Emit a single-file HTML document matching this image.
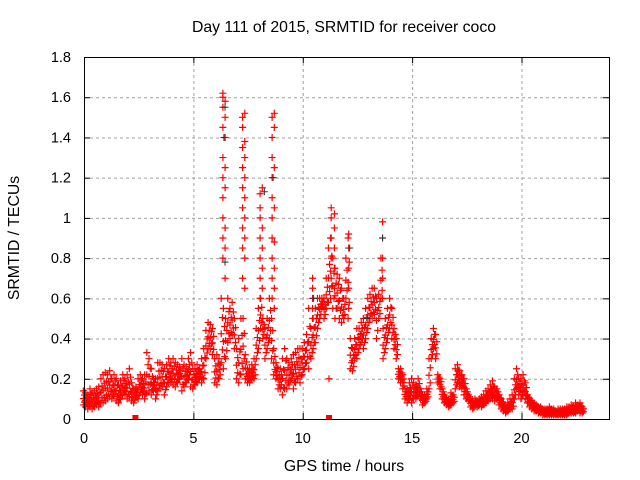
<!DOCTYPE html>
<html><head><meta charset="utf-8"><style>body{margin:0;background:#fff}svg{display:block;font-family:"Liberation Sans",sans-serif}</style></head>
<body>
<svg id="chart" width="640" height="480" viewBox="0 0 640 480"></svg>
<script>
const lowVals=[0.07,0.06,0.05,0.06,0.05,0.06,0.07,0.06,0.08,0.08,
0.09,0.1,0.11,0.1,0.12,0.09,0.08,0.1,0.12,0.12,
0.1,0.11,0.09,0.08,0.11,0.1,0.13,0.12,0.1,0.13,
0.14,0.12,0.14,0.1,0.14,0.15,0.16,0.12,0.16,0.18,
0.18,0.17,0.16,0.18,0.2,0.14,0.16,0.18,0.2,0.16,
0.15,0.17,0.18,0.2,0.18,0.2,0.3,0.35,0.35,0.32,
0.18,0.17,0.2,0.28,0.25,0.3,0.38,0.4,0.42,0.35,
0.2,0.18,0.22,0.25,0.2,0.18,0.18,0.2,0.2,0.3,
0.35,0.45,0.4,0.3,0.35,0.4,0.3,0.22,0.2,0.15,
0.15,0.12,0.15,0.15,0.17,0.2,0.15,0.18,0.2,0.18,
0.22,0.25,0.28,0.25,0.3,0.35,0.38,0.45,0.5,0.55,
0.5,0.55,0.58,0.6,0.55,0.5,0.55,0.5,0.48,0.5,
0.6,0.5,0.25,0.24,0.3,0.3,0.35,0.38,0.35,0.4,
0.45,0.5,0.5,0.52,0.4,0.5,0.6,0.3,0.35,0.4,
0.45,0.4,0.35,0.3,0.2,0.18,0.15,0.1,0.08,0.1,
0.08,0.1,0.1,0.12,0.1,0.07,0.08,0.1,0.15,0.3,
0.35,0.3,0.18,0.15,0.1,0.08,0.07,0.06,0.07,0.08,
0.15,0.18,0.16,0.15,0.12,0.1,0.09,0.06,0.05,0.07,
0.06,0.07,0.06,0.07,0.08,0.09,0.1,0.1,0.09,0.1,
0.07,0.05,0.04,0.03,0.04,0.05,0.05,0.1,0.15,0.12,
0.1,0.12,0.1,0.08,0.06,0.05,0.04,0.04,0.03,0.03,
0.02,0.02,0.02,0.02,0.02,0.02,0.02,0.02,0.02,0.02,
0.02,0.02,0.03,0.03,0.03,0.03,0.04,0.03,0.03];
const highVals=[0.14,0.13,0.12,0.15,0.13,0.14,0.15,0.16,0.2,0.22,
0.23,0.22,0.24,0.2,0.22,0.2,0.17,0.19,0.22,0.2,
0.22,0.25,0.18,0.15,0.16,0.2,0.22,0.2,0.22,0.33,
0.3,0.25,0.2,0.2,0.28,0.28,0.27,0.25,0.27,0.3,
0.28,0.3,0.28,0.27,0.26,0.3,0.27,0.26,0.3,0.33,
0.25,0.25,0.27,0.25,0.3,0.35,0.44,0.48,0.47,0.45,
0.3,0.32,0.3,0.6,0.55,0.5,0.6,0.55,0.58,0.5,
0.35,0.4,0.5,0.5,0.32,0.25,0.25,0.27,0.3,0.45,
0.55,0.6,0.5,0.45,0.5,0.6,0.5,0.35,0.28,0.25,
0.25,0.3,0.35,0.3,0.28,0.3,0.32,0.33,0.35,0.35,
0.35,0.38,0.42,0.55,0.45,0.5,0.55,0.6,0.6,0.6,
0.6,0.7,0.85,0.9,0.8,0.75,0.72,0.7,0.65,0.6,
0.8,0.9,0.4,0.35,0.4,0.45,0.45,0.48,0.5,0.55,
0.6,0.62,0.65,0.65,0.6,0.62,0.8,0.45,0.5,0.55,
0.6,0.55,0.45,0.4,0.25,0.25,0.22,0.15,0.15,0.18,
0.2,0.18,0.17,0.2,0.15,0.12,0.12,0.15,0.3,0.4,
0.45,0.42,0.22,0.2,0.15,0.12,0.1,0.1,0.13,0.12,
0.25,0.27,0.24,0.22,0.2,0.15,0.12,0.1,0.09,0.1,
0.09,0.1,0.11,0.12,0.14,0.15,0.17,0.19,0.16,0.15,
0.12,0.1,0.08,0.07,0.08,0.1,0.12,0.2,0.25,0.2,
0.2,0.22,0.18,0.12,0.1,0.09,0.08,0.07,0.06,0.06,
0.05,0.05,0.05,0.06,0.05,0.05,0.04,0.05,0.05,0.05,
0.05,0.06,0.06,0.07,0.06,0.08,0.07,0.08,0.06];
const spikeTimes=[6.35,6.45,7.25,7.35,8.05,8.15,8.6,8.7,10.45,11.3,11.45,12.1,13.65,11.2,2.35,11.2];
const spikeValues=[[0.8,0.9,1.0,1.1,1.2,1.3,1.45,1.55,1.6,1.62],[0.7,0.85,0.95,1.15,1.25,1.4,1.5,1.58],
[0.7,0.85,0.95,1.05,1.15,1.25,1.35,1.45,1.5],[0.65,0.8,0.9,1.0,1.1,1.2,1.3,1.38,1.52],
[0.6,0.7,0.8,0.9,1.0,1.05,1.12],[0.65,0.75,0.85,0.95,1.15],
[0.6,0.7,0.8,0.9,1.0,1.1,1.2,1.3,1.4,1.5],[0.55,0.65,0.75,0.88,1.05,1.25,1.45,1.52],
[0.5,0.55,0.6,0.65,0.7],[0.7,0.8,0.9,1.0,1.05],[0.65,0.75,0.85,0.95,1.02],
[0.55,0.65,0.75,0.85,0.92],[0.6,0.7,0.8,0.9,0.98],[0.2],[0],[0]];
const grayTimes=[6.35,6.4,6.4,8.2,8.6,10.45,12.1,13.6,12.9];
const grayValues=[1.4,1.55,0.78,1.13,1.2,0.6,0.85,0.9,0.5];
const yTicks=[0,0.2,0.4,0.6,0.8,1,1.2,1.4,1.6,1.8];
const yTickLabels=["0","0.2","0.4","0.6","0.8","1","1.2","1.4","1.6","1.8"];
const xTicks=[0,5,10,15,20];
const xTickLabels=["0","5","10","15","20"];

const svg=document.getElementById('chart');
const NS='http://www.w3.org/2000/svg';
const L=84,R=609,T=57,B=419,XMAX=24,YMAX=1.8;
const xs=v=>L+v/XMAX*(R-L);
const ys=v=>B-v/YMAX*(B-T);
function mk(tag,attrs,parent){const e=document.createElementNS(NS,tag);for(const k in attrs)e.setAttribute(k,attrs[k]);(parent||svg).appendChild(e);return e;}

const grid=mk('g',{stroke:'#a0a0a0','stroke-width':1,'stroke-dasharray':'3,3'});


yTicks.forEach((v,i)=>{
  if(v>0&&v<YMAX) mk('line',{x1:L,x2:R,y1:ys(v)+0.5,y2:ys(v)+0.5},grid);
  const t=mk('text',{x:L-13,y:ys(v)+5,'text-anchor':'end','font-size':14.5,fill:'#000'});
  t.textContent=yTickLabels[i];
  
  
  mk('line',{x1:L,x2:L+6,y1:ys(v)+0.5,y2:ys(v)+0.5,stroke:'#000'});
  mk('line',{x1:R-6,x2:R,y1:ys(v)+0.5,y2:ys(v)+0.5,stroke:'#000'});
});
xTicks.forEach((v,i)=>{
  if(v>0) mk('line',{x1:xs(v)+0.5,x2:xs(v)+0.5,y1:T,y2:B},grid);
  const t=mk('text',{x:xs(v),y:443,'text-anchor':'middle','font-size':14.5,fill:'#000'});
  t.textContent=xTickLabels[i];
  
  
  mk('line',{x1:xs(v)+0.5,x2:xs(v)+0.5,y1:B,y2:B-6,stroke:'#000'});
  mk('line',{x1:xs(v)+0.5,x2:xs(v)+0.5,y1:T,y2:T+6,stroke:'#000'});
});

const pts=mk('g',{stroke:'#ff0000','stroke-width':1.2,fill:'#ff0000'});


function plus(x,y,g){mk('path',{d:`M${x-3.5},${y}H${x+3.5}M${x},${y-3.5}V${y+3.5}`},g);}
const fracs=[0,0.2,0.45,0.7,1];
lowVals.forEach((lo,i)=>{
  const t=i*0.1,x=xs(t),hi=highVals[i];
  fracs.forEach((f,k)=>plus(x+(k%2?1:-1)*0.6,ys(lo+(hi-lo)*f),pts));
});
spikeTimes.forEach((t,i)=>{spikeValues[i].forEach(v=>{
  if(v===0) mk('rect',{x:xs(t)-3,y:B-4,width:6,height:5,stroke:'none'},pts);
  else plus(xs(t),ys(v),pts);
});});
const gp=mk('g',{stroke:'#333','stroke-width':1});


grayTimes.forEach((t,i)=>plus(xs(t)+1,ys(grayValues[i]),gp));

const frame=mk('rect',{x:L+0.5,y:T+0.5,width:R-L,height:B-T,fill:'none',stroke:'#000'});



const title=mk('text',{x:344,y:32,'text-anchor':'middle','font-size':15.8});
title.textContent='Day 111 of 2015, SRMTID for receiver coco';


const xt=mk('text',{x:344,y:471,'text-anchor':'middle','font-size':15.8});
xt.textContent='GPS time / hours';


const yt=mk('text',{x:0,y:0,'text-anchor':'middle','font-size':15.8,transform:'translate(19,238) rotate(-90)'});
yt.textContent='SRMTID / TECUs';


</script>
</body></html>
